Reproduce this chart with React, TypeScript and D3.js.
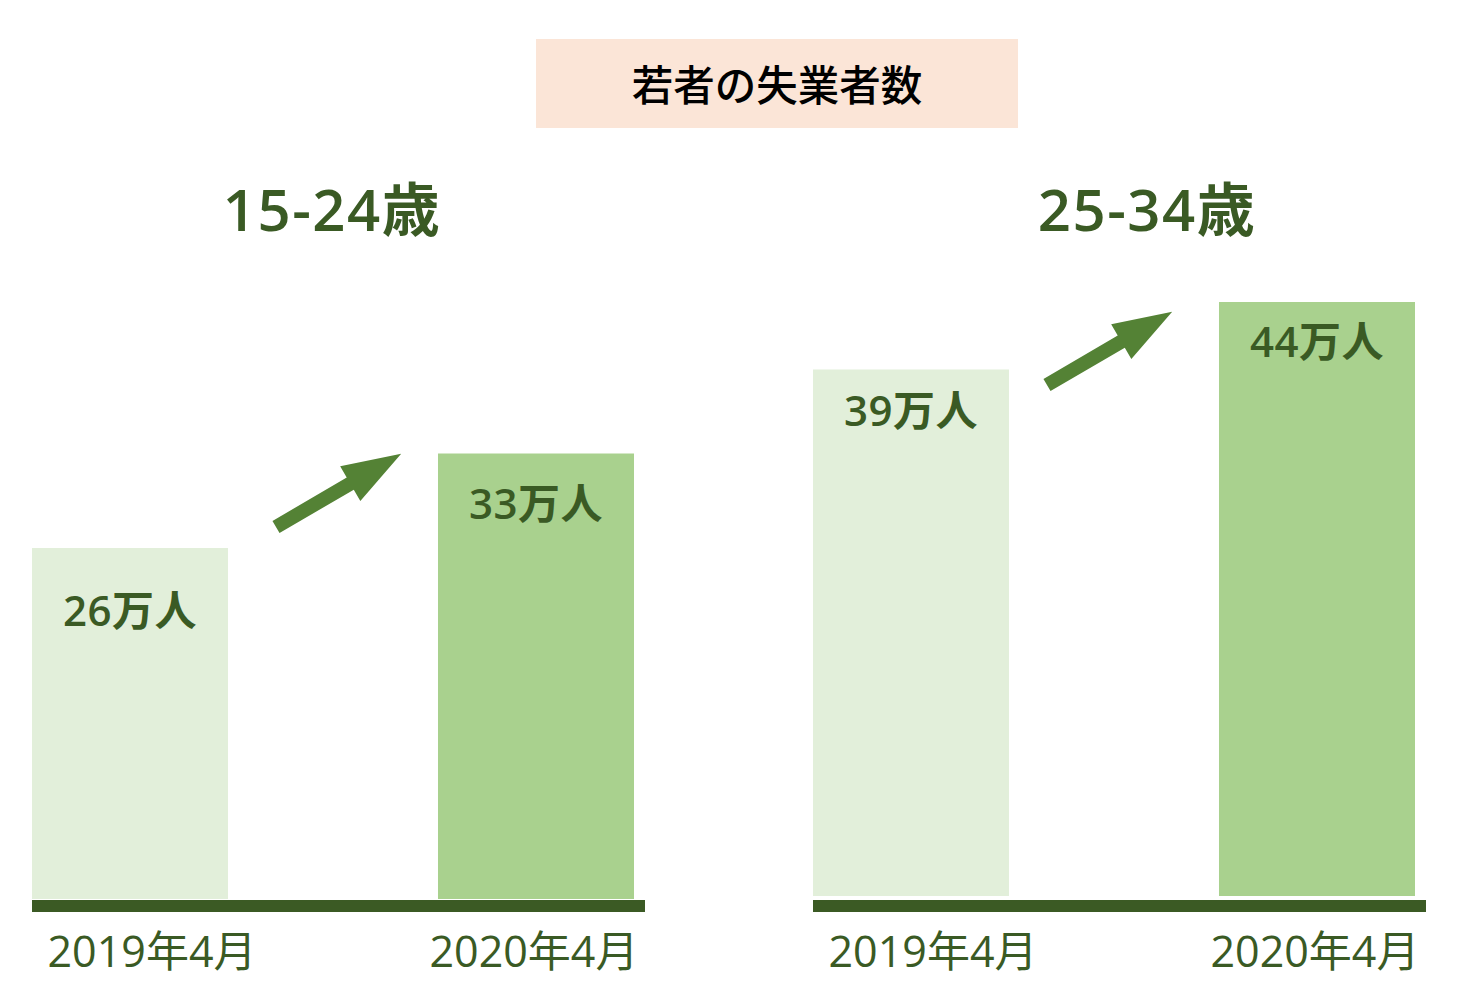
import React from "react";
import * as d3 from "d3";

// ---- data ----
const chartTitle = "若者の失業者数";
const groups = ["15-24歳", "25-34歳"];
const categories = ["2019年4月", "2020年4月"];
const values15to24 = [26, 33];
const values25to34 = [39, 44];
const valueUnit = "万人";

// ---- layout / style constants ----
const W = 1468;
const H = 1002;
const FONT = "'Noto Sans CJK JP', 'Noto Sans', sans-serif";
const FONT_NUM = "'Open Sans', 'Noto Sans CJK JP', sans-serif";
const TEXT_GREEN = "#3A5A24";
const LINE_GREEN = "#3B5A24";
const ARROW_GREEN = "#548235";
const BAR_COLORS = ["#E2EFDA", "#A9D18E"];

const panelX = [32, 813];
const panelBottom = [899, 896];
const panelTitleX = [332, 1147];
const labelDy = [[78, 65], [56, 55]];
const catLabelDx = [22, -2];
const arrowTail: [number, number][] = [[276, 527], [1047, 385]];

const App: React.FC = () => {
  const seriesList = [values15to24, values25to34];
  const x = d3.scaleBand<string>().domain(categories).range([0, 602]).paddingInner(0.5172).paddingOuter(0);
  const h = d3.scaleLinear().domain([0, 50]).range([0, 675]);

  // arrow shape in local coords (tail center at origin, pointing +x)
  const arrowPts: [number, number][] = [
    [0, -7], [86, -7], [86, -20], [145, 0], [86, 20], [86, 7], [0, 7],
  ];
  const arrowPath = d3.line()(arrowPts) + "Z";

  return (
    <svg width={W} height={H} style={{ position: "absolute", left: 0, top: 0, background: "#fff" }}>
      <rect x={536} y={39} width={482} height={89} fill="#FBE5D7" />
      <text x={777} y={101} textAnchor="middle" fontFamily={FONT} fontSize={41.5} fontWeight={500} fill="#000">
        {chartTitle}
      </text>
      {groups.map((g, gi) => {
        const x0 = panelX[gi];
        const yb = panelBottom[gi];
        const vals = seriesList[gi];
        return (
          <g key={g}>
            <text x={panelTitleX[gi]} y={231} textAnchor="middle" fontFamily={FONT_NUM} fontSize={58} fontWeight={600} letterSpacing={1.5} fill={TEXT_GREEN}>
              {g}
            </text>
            {categories.map((c, ci) => {
              const bx = x0 + (x(c) as number);
              const bh = h(vals[ci]);
              const top = yb - bh;
              const cx = bx + x.bandwidth() / 2;
              return (
                <g key={c}>
                  <rect x={bx} y={top} width={x.bandwidth()} height={bh} fill={BAR_COLORS[ci]} />
                  <text x={cx} y={top + labelDy[gi][ci]} textAnchor="middle" fontFamily={FONT_NUM} fontSize={42} fontWeight={600} letterSpacing={0.5} fill={TEXT_GREEN}>
                    {vals[ci] + valueUnit}
                  </text>
                  <text x={cx + catLabelDx[ci]} y={967} textAnchor="middle" fontFamily={FONT_NUM} fontSize={43} fontWeight={400} fill={TEXT_GREEN}>
                    {c}
                  </text>
                </g>
              );
            })}
            <rect x={x0} y={900} width={613} height={12} fill={LINE_GREEN} />
            <path
              d={arrowPath}
              fill={ARROW_GREEN}
              transform={`translate(${arrowTail[gi][0]},${arrowTail[gi][1]}) rotate(-30.3)`}
            />
          </g>
        );
      })}
    </svg>
  );
};

export default App;
